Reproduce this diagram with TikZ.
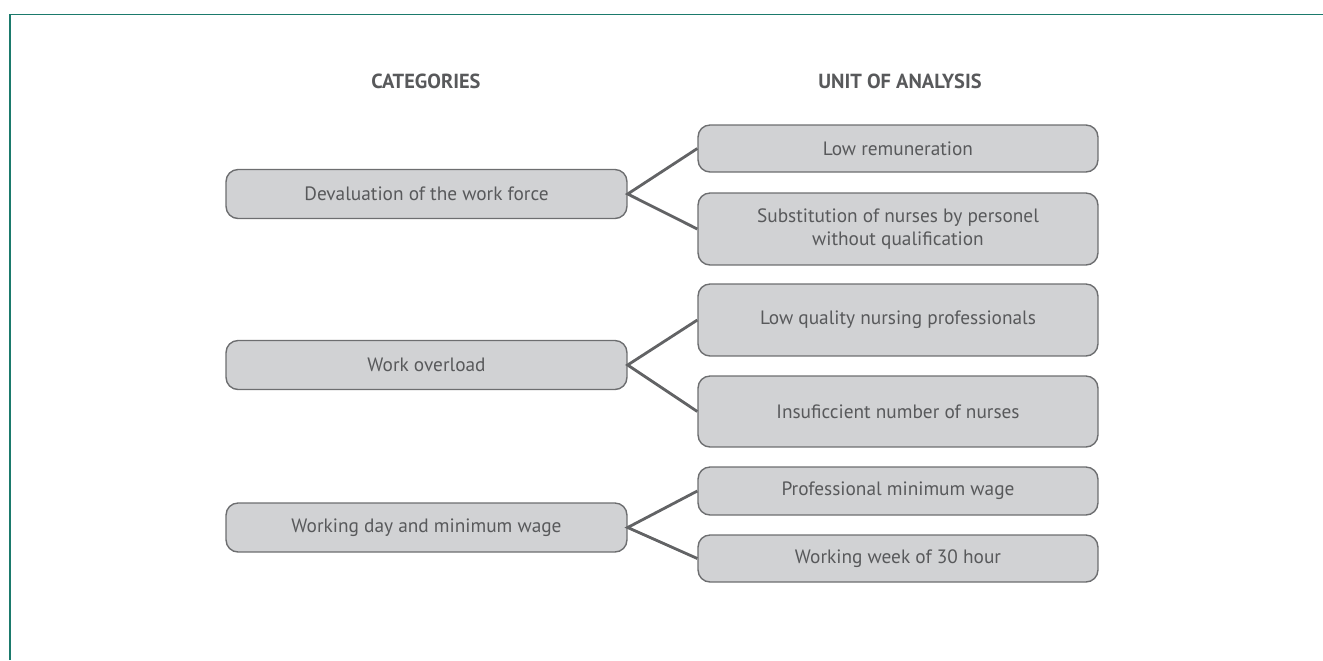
\documentclass[tikz,border=0pt]{standalone}
\usepackage{fontspec}
\setmainfont{PT Sans}
\definecolor{frameteal}{HTML}{1B7A6C}
\definecolor{boxfill}{HTML}{D1D2D4}
\definecolor{boxline}{HTML}{6D6E70}
\definecolor{txtgray}{HTML}{58595B}

\begin{document}
\begin{tikzpicture}[x=0.02cm,y=-0.02cm,
	catbox/.style={draw=boxline,fill=boxfill,line width=0.8pt,rounded corners=0.24cm,
		minimum width=8.02cm,minimum height=0.98cm,inner sep=0pt,align=center,
		text=txtgray,font=\fontsize{11}{12.6}\selectfont},
	unitbox/.style={catbox,minimum width=8cm},
	head/.style={text=txtgray,font=\fontsize{11.6}{13}\selectfont\bfseries},
	link/.style={draw=boxline!90!black,line width=1.6pt}]
		\useasboundingbox (0,0) rectangle (1323,660);
		\draw[color=frameteal,line width=1.1pt] (10,660)--(10,14.5)--(1323,14.5);
		\node[head] (hcat) at (426,81) {CATEGORIES};
		\node[head] (hunit) at (900,81) {UNIT OF ANALYSIS};
		% categories
		\node[catbox] (cat1) at (426.5,194) {Devaluation of the work force};
		\node[catbox] (cat2) at (426.5,365) {Work overload};
		\node[catbox] (cat3) at (426.5,527.5) {Working day and minimum wage};
		% units of analysis
		\node[unitbox,minimum height=0.94cm] (unit1) at (898,148.5) {Low remuneration};
		\node[unitbox,minimum height=1.44cm] (unit2) at (898,229) {Substitution of nurses by personel\\ without qualification};
		\node[unitbox,minimum height=1.44cm] (unit3) at (898,320) {Low quality nursing professionals};
		\node[unitbox,minimum height=1.42cm] (unit4) at (898,411.5) {Insuficcient number of nurses};
		\node[unitbox,minimum height=0.96cm] (unit5) at (898,491) {Professional minimum wage};
		\node[unitbox,minimum height=0.94cm] (unit6) at (898,558.5) {Working week of 30 hour};
		\draw[link] (unit1.west)--(cat1.east)--(unit2.west);
		\draw[link] (unit3.west)--(cat2.east)--(unit4.west);
		\draw[link] (unit5.west)--(cat3.east)--(unit6.west);
		%\node at (0,0) {};
\end{tikzpicture}
\end{document}
